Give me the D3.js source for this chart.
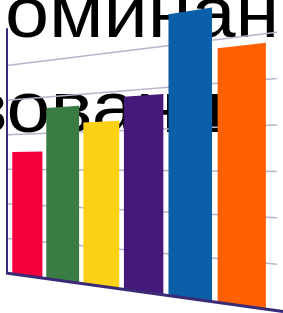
<!DOCTYPE html>
<html><head><meta charset="utf-8">
<script src="https://cdn.jsdelivr.net/npm/d3@7"></script>
<style>html,body{margin:0;padding:0;background:#fff;overflow:hidden}</style>
</head><body>
<svg id="c" width="283" height="313"></svg>
<script>
// ---- data ----
const categories = ["1","2","3","4","5","6"];
const values = [3.5, 4.7, 4.25, 4.85, 6.75, 5.8];
const colors = ["#f5003d","#3a7d44","#fcd116","#45197a","#0a5fa8","#ff6100"];
const gridTicks = [1,2,3,4,5,6];
const titleLines = ["оминан","зования"];

// ---- layout / perspective ----
const W = 283, H = 313;
const svg = d3.select("#c");
const vpX = -781, vpY = 163, dRef = 791;
const invL = 1/788, invR = 1/1064;
const yRef = d3.scaleLinear().domain([0,7]).range([273.4, 30.5]);
const xBand = d3.scaleBand().domain(categories).range([0.0168, 0.962])
  .paddingInner(0.11).paddingOuter(0.055);
function proj(u, v){
  const inv = invL + (invR - invL)*u;
  const d = 1/inv;
  return [vpX + d, vpY + (yRef(v) - vpY)*d/dRef];
}
const poly = pts => pts.map(p => proj(p[0],p[1]).join(",")).join(" ");

// ---- title text (behind) ----
const tg = svg.append("g").attr("font-family","'Liberation Sans', Arial, sans-serif")
  .attr("font-size",72).attr("fill","#000");
tg.append("text").attr("transform","translate(5,37) scale(1.1,1)").text(titleLines[0]);
tg.append("text").attr("transform","translate(-29,131.5) scale(1.1,1)").text(titleLines[1]);

// ---- gridlines ----
svg.append("g").selectAll("line").data(gridTicks).join("line")
  .each(function(v){
    const a = proj(0,v), b = proj(0.9835,v);
    d3.select(this).attr("x1",a[0]).attr("y1",a[1]).attr("x2",b[0]).attr("y2",b[1]);
  })
  .attr("stroke","#b9b3cb").attr("stroke-width",1.5);

// ---- bars ----
svg.append("g").selectAll("polygon").data(values).join("polygon")
  .attr("points",(v,i)=>{
    const u0 = xBand(categories[i]), u1 = u0 + xBand.bandwidth();
    return poly([[u0,0],[u1,0],[u1,v],[u0,v]]);
  })
  .attr("fill",(v,i)=>colors[i]);

// ---- axes ----
const a0 = proj(0,0), a1 = proj(0,7.08), b1 = proj(1,0);
svg.append("line").attr("x1",a0[0]).attr("y1",a0[1]).attr("x2",a1[0]).attr("y2",a1[1])
  .attr("stroke","#3b2a76").attr("stroke-width",2);
svg.append("line").attr("x1",a0[0]-1).attr("y1",a0[1]).attr("x2",b1[0]).attr("y2",b1[1])
  .attr("stroke","#3b2a76").attr("stroke-width",3);
</script>
</body></html>
